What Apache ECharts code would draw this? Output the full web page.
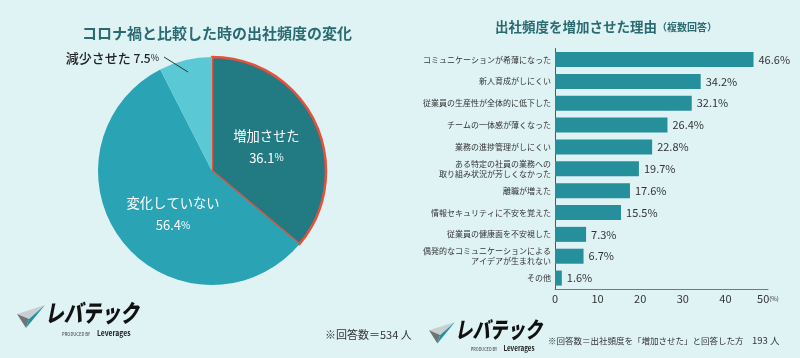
<!DOCTYPE html>
<html><head><meta charset="utf-8">
<script src="https://cdn.jsdelivr.net/npm/echarts@6/dist/echarts.min.js"></script>
<style>html,body{margin:0;padding:0;background:#dff3f5;}#c{width:800px;height:358px;}</style>
</head><body><div id="c"></div>
<script>
const pieNames = ['増加させた', '変化していない', '減少させた'];
const pieValues = [36.1, 56.4, 7.5];
const barCategories = [
  'コミュニケーションが希薄になった',
  '新人育成がしにくい',
  '従業員の生産性が全体的に低下した',
  'チームの一体感が薄くなった',
  '業務の進捗管理がしにくい',
  'ある特定の社員の業務への\n取り組み状況が芳しくなかった',
  '離職が増えた',
  '情報セキュリティに不安を覚えた',
  '従業員の健康面を不安視した',
  '偶発的なコミュニケーションによる\nアイデアが生まれない',
  'その他'
];
const barValues = [46.6, 34.2, 32.1, 26.4, 22.8, 19.7, 17.6, 15.5, 7.3, 6.7, 1.6];
const xTicks = [0, 10, 20, 30, 40, 50];

const FONT = '"Noto Sans CJK JP", "Noto Sans", sans-serif';
const chart = echarts.init(document.getElementById('c'));
const pieColors = ['#227b83', '#2aa3b4', '#5bc8d6'];

function logo(x, y, s) {
  return {
    type: 'group', x: x, y: y, scaleX: s, scaleY: s,
    children: [
      { type: 'polygon', shape: { points: [[0, 9], [28, 0], [12, 14]] }, style: { fill: '#c9cfd1' } },
      { type: 'polygon', shape: { points: [[0, 9], [12, 14], [9, 23]] }, style: { fill: '#6d7476' } },
      { type: 'polygon', shape: { points: [[9, 23], [12, 14], [28, 0]] }, style: { fill: '#23939f' } },
      { type: 'text', x: 28, y: -4, scaleX: 0.78, style: { text: 'レバテック', font: 'italic 900 24px ' + FONT, fill: '#111' } },
      { type: 'text', x: 45, y: 26.5, scaleX: 0.82, style: { text: 'PRODUCED BY', font: '500 5px ' + FONT, fill: '#555' } },
      { type: 'text', x: 80, y: 24, scaleX: 0.85, style: { text: 'Leverages', font: 'bold 8px ' + FONT, fill: '#222' } }
    ]
  };
}

chart.setOption({
  backgroundColor: '#dff3f5',
  textStyle: { fontFamily: FONT },
  animation: false,
  title: [
    { text: 'コロナ禍と比較した時の出社頻度の変化', left: 212, textAlign: 'center', top: 21,
      textStyle: { fontSize: 15, fontWeight: 'bold', color: '#2a6b71', fontFamily: FONT } },
    { text: '出社頻度を増加させた理由{s|（複数回答）}', left: 601, textAlign: 'center', top: 15,
      textStyle: { fontSize: 13.5, fontWeight: 'bold', color: '#2a6b71', fontFamily: FONT,
        rich: { s: { fontSize: 10, fontWeight: 'bold', color: '#2a6b71', fontFamily: FONT } } } }
  ],
  grid: { left: 555, right: 32, top: 48.6, bottom: 69, containLabel: false },
  xAxis: {
    type: 'value', min: 0, max: 50, interval: 10,
    axisLine: { show: true, lineStyle: { color: '#777', width: 1 } },
    axisTick: { show: false },
    splitLine: { show: false },
    axisLabel: {
      margin: 4, color: '#333', fontSize: 11, fontFamily: FONT,
      formatter: v => v === xTicks[xTicks.length - 1] ? '{a|' + v + '}{p|(%)}' : String(v),
      rich: { a: { fontSize: 11, color: '#333', fontFamily: FONT }, p: { fontSize: 6, color: '#333', fontFamily: FONT } }
    }
  },
  yAxis: {
    type: 'category', data: barCategories, inverse: true,
    axisLine: { show: true, lineStyle: { color: '#555', width: 1 } },
    axisTick: { show: false },
    axisLabel: { margin: 4, color: '#333', fontSize: 8, lineHeight: 10, fontFamily: FONT }
  },
  series: [
    {
      type: 'pie', center: [212, 171], radius: 114, startAngle: 90, clockwise: true,
      data: pieNames.map((n, i) => ({
        name: n, value: pieValues[i],
        itemStyle: i === 0 ? { color: pieColors[i], borderColor: '#e8503a', borderWidth: 2.5 } : { color: pieColors[i], borderWidth: 0 },
        label: i === 2 ? {
          position: 'outside', color: '#222',
          formatter: '{t|減少させた} {n|' + pieValues[i] + '}{p|%}',
          rich: {
            t: { fontSize: 13, color: '#222', fontWeight: 500, fontFamily: FONT },
            n: { fontSize: 12, color: '#222', fontWeight: 500, fontFamily: FONT },
            p: { fontSize: 9, color: '#222', fontFamily: FONT }
          }
        } : {
          position: 'inside', color: '#fff',
          formatter: '{t|' + n + '}\n{n|' + pieValues[i] + '}{p|%}',
          rich: {
            t: { fontSize: 13.3, color: '#fff', lineHeight: 24, fontFamily: FONT },
            n: { fontSize: 13, color: '#fff', lineHeight: 20, fontFamily: FONT },
            p: { fontSize: 10, color: '#fff', fontFamily: FONT }
          }
        },
        labelLine: { show: false }
      })),
      labelLayout: function (p) {
        if (p.dataIndex === 2) return { x: 159, y: 58, align: 'right', verticalAlign: 'middle' };
        if (p.dataIndex === 1) return { dx: 8, dy: 5 };
        return {};
      },
      emphasis: { disabled: true }
    },
    {
      type: 'bar', data: barValues, barWidth: 15,
      itemStyle: { color: '#268f9c' },
      label: { show: true, position: 'right', distance: 5, color: '#333', fontSize: 11, fontFamily: FONT,
        formatter: p => p.value.toFixed(1) + '%' }
    }
  ],
  graphic: [
    { type: 'line', shape: { x1: 164, y1: 57, x2: 188, y2: 72 }, style: { stroke: '#333', lineWidth: 1 }, z: 10 },
    logo(17, 305, 1),
    logo(429, 322, 0.93),
    { type: 'text', left: 325, top: 329, style: { text: '※回答数＝534 人', font: '11px ' + FONT, fill: '#333' } },
    { type: 'text', left: 548, top: 337, style: { text: '※回答数＝出社頻度を「増加させた」と回答した方', font: '8.5px ' + FONT, fill: '#333' } },
    { type: 'text', left: 752, top: 336, style: { text: '193 人', font: '9.5px ' + FONT, fill: '#333' } }
  ]
});
</script></body></html>
